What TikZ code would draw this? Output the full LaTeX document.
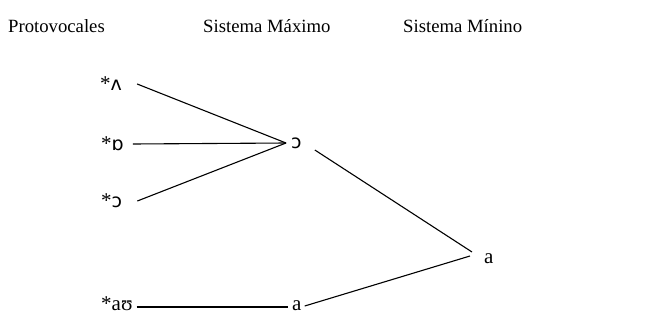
\documentclass[tikz,border=0pt]{standalone}
\usepackage{fontspec}
\setmainfont{Liberation Serif}
\newfontfamily\ipasans{DejaVu Sans}
\newcommand{\ipa}[1]{{\ipasans\fontsize{19}{22}\selectfont #1}}
\begin{document}
\begin{tikzpicture}[x=1pt,y=-1pt,
  hdr/.style={inner sep=0pt, anchor=base west, font=\fontsize{18.7}{22}\selectfont},
  body/.style={inner sep=0pt, anchor=base west, font=\fontsize{21}{25}\selectfont},
  ln/.style={line width=1.1pt}]
\useasboundingbox (0,0) rectangle (669,324);
% headers
\node[hdr] (h1) at (8,32) {Protovocales};
\node[hdr] (h2) at (203,32) {Sistema Máximo};
\node[hdr] (h3) at (403,32) {Sistema Mínino};
% proto vowels
\node[body] (p1) at (100,90) {*\ipa{ʌ}};
\node[body] (p2) at (101,150) {*\ipa{ɒ}};
\node[body] (p3) at (101,207) {*\ipa{ɔ}};
\node[body] (p4) at (101,310) {*aʊ};
% maximal system
\node[body] (m1) at (291,148) {\ipa{ɔ}};
\node[body] (m2) at (292,310) {a};
% minimal system
\node[body] (n1) at (484,263) {a};
% connectors
\draw[ln] ([xshift=15pt,yshift=6pt]p1.base east) -- ([xshift=-5pt,yshift=5pt]m1.base west);
\draw[ln] ([xshift=9pt,yshift=6pt]p2.base east) -- ([xshift=-5pt,yshift=5pt]m1.base west);
\draw[ln] ([xshift=15pt,yshift=6pt]p3.base east) -- ([xshift=-5pt,yshift=5pt]m1.base west);
\draw[ln] ([xshift=13pt,yshift=-2pt]m1.base east) -- ([xshift=-12pt,yshift=11pt]n1.base west);
\draw[ln] ([xshift=4pt,yshift=3pt]p4.base east) -- ([xshift=-4pt,yshift=3pt]m2.base west);
\draw[ln] ([xshift=3pt,yshift=4pt]m2.base east) -- ([xshift=-14pt,yshift=7pt]n1.base west);
\end{tikzpicture}
\end{document}
